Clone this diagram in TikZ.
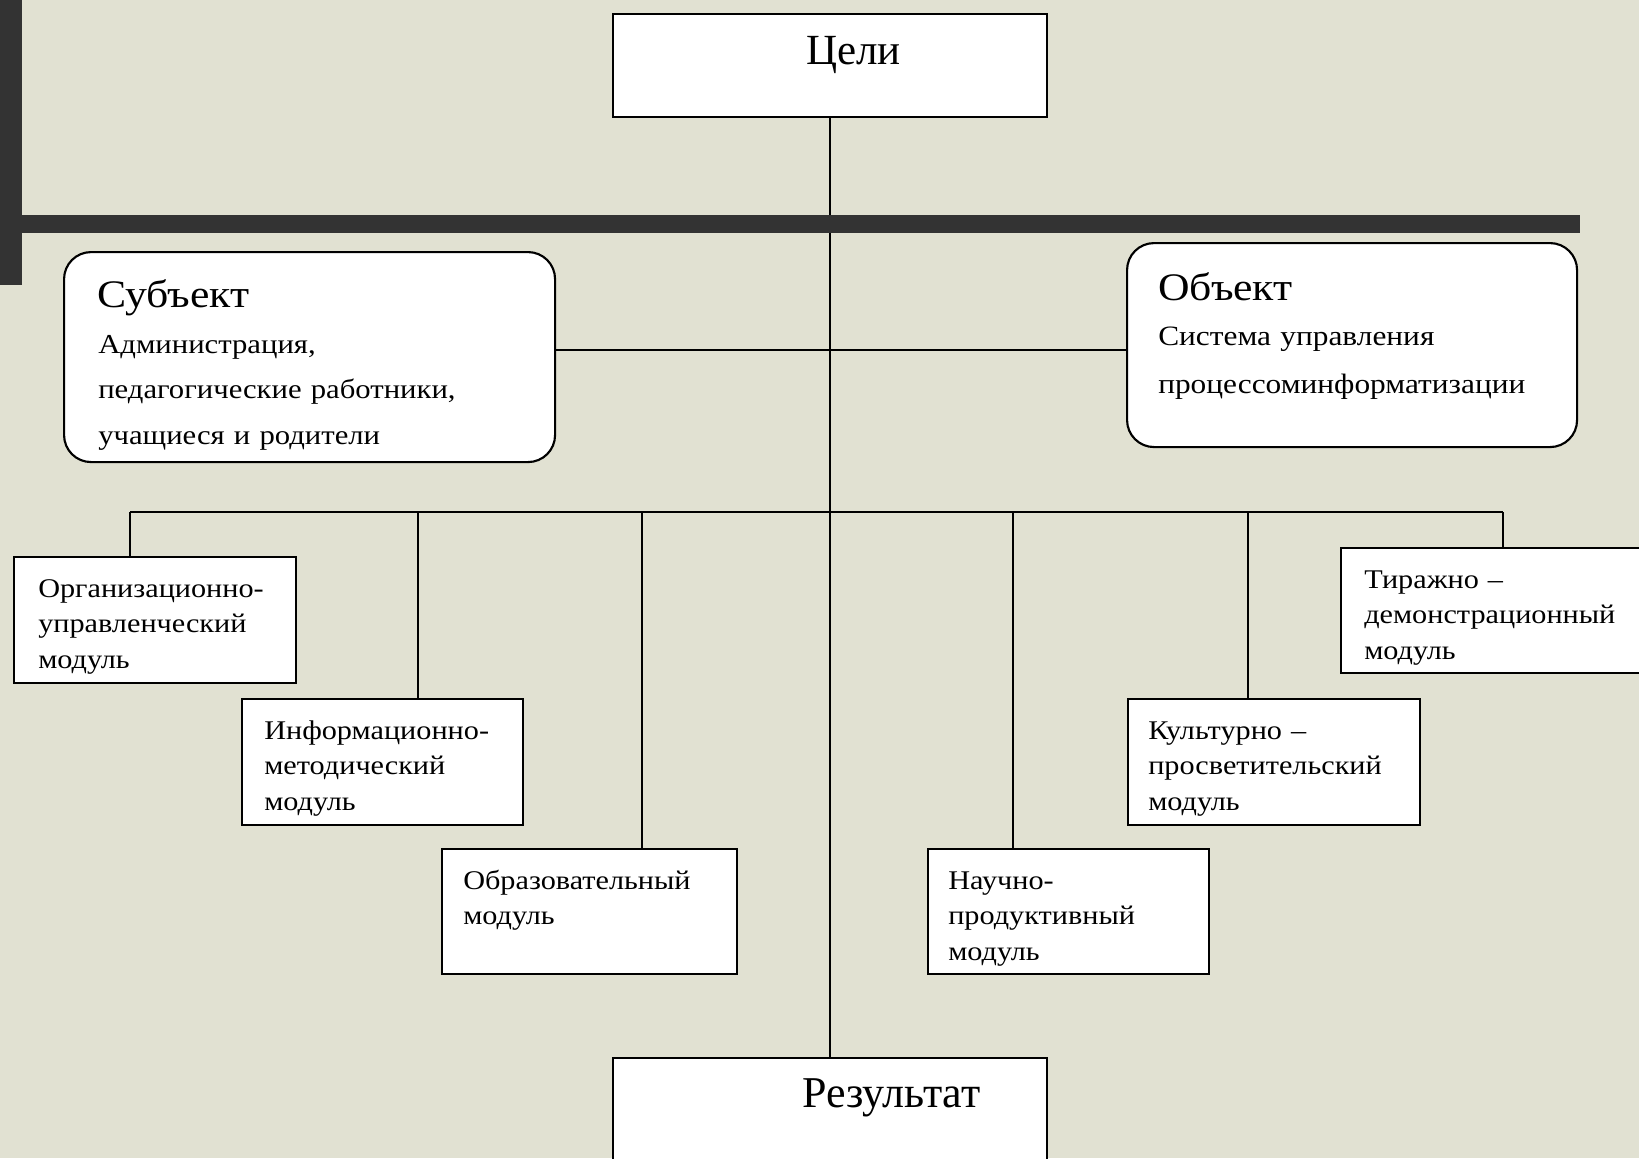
\documentclass[tikz,border=0pt]{standalone}
\usepackage{fontspec}
\setmainfont{Liberation Serif}
\newfontfamily\wideserif[FakeStretch=1.12]{Liberation Serif}
\newdimen\pxu \pxu=0.75pt
\definecolor{bgcol}{RGB}{225,225,210}
\definecolor{barcol}{RGB}{51,51,51}
\tikzset{
  box/.style={draw=black, line width=1.6pt, fill=white, inner sep=0pt, anchor=north west},
  rbox/.style={box, rounded corners=27\pxu},
  conn/.style={draw=black, line width=1.2pt},
  mtext/.style={anchor=base west, inner sep=0pt, align=left, text width=330\pxu,
    font=\wideserif\fontsize{27\pxu}{35.5\pxu}\selectfont},
  btext/.style={anchor=base west, inner sep=0pt, align=left, text width=430\pxu,
    font=\wideserif\fontsize{27.4\pxu}{45.5\pxu}\selectfont},
  ttext/.style={anchor=base west, inner sep=0pt, font=\wideserif\fontsize{39\pxu}{44\pxu}\selectfont},
  htext/.style={anchor=base west, inner sep=0pt, font=\fontsize{43\pxu}{50\pxu}\selectfont}
}
\begin{document}
\begin{tikzpicture}[x=0.75pt,y=-0.75pt]
\useasboundingbox (0,0) rectangle (1639,1158);
\clip (0,0) rectangle (1639,1158);
\fill[bgcol] (0,0) rectangle (1639,1158);

% boxes
\node[box, minimum width=434\pxu, minimum height=103\pxu] (cel) at (612,13) {};
\node[rbox, minimum width=491\pxu, minimum height=210\pxu] (subj) at (63,251) {};
\node[rbox, minimum width=450\pxu, minimum height=204\pxu] (obj) at (1126,242) {};
\node[box, minimum width=282\pxu, minimum height=126\pxu] (org) at (13,556) {};
\node[box, minimum width=281\pxu, minimum height=126\pxu] (inf) at (241,698) {};
\node[box, minimum width=295\pxu, minimum height=125\pxu] (obr) at (441,848) {};
\node[box, minimum width=281\pxu, minimum height=125\pxu] (nau) at (927,848) {};
\node[box, minimum width=292\pxu, minimum height=126\pxu] (kul) at (1127,698) {};
\node[box, minimum width=320\pxu, minimum height=125\pxu] (tir) at (1340,547) {};
\node[box, minimum width=434\pxu, minimum height=130\pxu] (res) at (612,1057) {};

% connectors
\coordinate (hl) at (828,350);
\coordinate (b1) at (130,512);
\coordinate (b2) at (418,512);
\coordinate (b3) at (642,512);
\coordinate (b4) at (1013,512);
\coordinate (b5) at (1248,512);
\coordinate (b6) at (1503,512);
\draw[conn] (cel.south) -- (res.north);
\draw[conn] (subj.east |- hl) -- (obj.west |- hl);
\draw[conn] (b1) -- (b6);
\draw[conn] (b1) -- (b1 |- org.north);
\draw[conn] (b2) -- (b2 |- inf.north);
\draw[conn] (b3) -- (b3 |- obr.north);
\draw[conn] (b4) -- (b4 |- nau.north);
\draw[conn] (b5) -- (b5 |- kul.north);
\draw[conn] (b6) -- (b6 |- tir.north);

% bars
\fill[barcol] (0,0) rectangle (22,285);
\fill[barcol] (22,215) rectangle (1580,233);

% texts
\node[htext] (celT) at (806,64) {Цели};
\node[htext, font=\fontsize{44\pxu}{50\pxu}\selectfont] (resT) at (802,1107) {Результат};
\node[ttext] (subjT) at (97,307) {Субъект};
\node[btext] (subjB) at (98,353) {Администрация,\\педагогические работники,\\учащиеся и родители};
\node[ttext] (objT) at (1158,300) {Объект};
\node[btext, font=\wideserif\fontsize{28\pxu}{48\pxu}\selectfont] (objB) at (1158,345) {Система управления\\процессоминформатизации};
\node[mtext] (orgT) at (38,597) {Организационно-\\управленческий\\модуль};
\node[mtext] (infT) at (264,739) {Информационно-\\методический\\модуль};
\node[mtext] (obrT) at (463,889) {Образовательный\\модуль};
\node[mtext] (nauT) at (948,889) {Научно-\\продуктивный\\модуль};
\node[mtext] (kulT) at (1148,739) {Культурно –\\просветительский\\модуль};
\node[mtext] (tirT) at (1364,588) {Тиражно –\\демонстрационный\\модуль};
\end{tikzpicture}
\end{document}
